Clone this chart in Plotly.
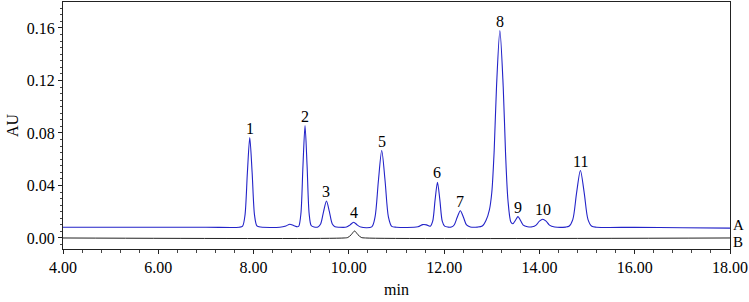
import plotly.graph_objects as go

# ---- data ----
time_a = [4.00, 7.00, 7.70, 7.77, 7.82, 7.87, 7.92, 7.97, 8.02, 8.07, 8.15,
          8.55, 8.68, 8.76, 8.84, 8.92,
          8.951, 8.994, 9.037, 9.08, 9.123, 9.166, 9.209, 9.27,
          9.35, 9.41, 9.47, 9.53, 9.59, 9.65, 9.71, 9.80,
          9.95, 10.02, 10.10, 10.18, 10.25,
          10.48, 10.55, 10.62, 10.69, 10.76, 10.83, 10.90, 11.00,
          11.45, 11.55, 11.63, 11.68,
          11.71, 11.76, 11.81, 11.86, 11.91, 11.96, 12.01, 12.08,
          12.15, 12.21, 12.275, 12.34, 12.405, 12.47, 12.55,
          12.70, 12.80, 12.88, 12.95, 13.00, 13.05, 13.10, 13.17, 13.24, 13.29, 13.34, 13.40,
          13.44, 13.50, 13.55, 13.60, 13.66, 13.75,
          13.85, 13.93, 14.00, 14.07, 14.14, 14.21, 14.32,
          14.55, 14.62, 14.70, 14.78, 14.86, 14.94, 15.02, 15.10, 15.20,
          16.00, 17.00, 18.00]
au_a = [0.0082, 0.0082, 0.0082, 0.0090, 0.0174, 0.0497, 0.0765, 0.0497, 0.0174, 0.0092, 0.0083,
        0.0082, 0.0092, 0.0105, 0.0095, 0.0085,
        0.0091, 0.0187, 0.0552, 0.0857, 0.0552, 0.0187, 0.0095, 0.0084,
        0.0084, 0.0109, 0.0203, 0.0282, 0.0203, 0.0109, 0.0086, 0.0082,
        0.0083, 0.0098, 0.0120, 0.0098, 0.0083,
        0.0085, 0.0161, 0.0436, 0.0666, 0.0436, 0.0161, 0.0088, 0.0082,
        0.0085, 0.0102, 0.0100, 0.0092,
        0.0090, 0.0128, 0.0290, 0.0425, 0.0290, 0.0128, 0.0090, 0.0083,
        0.0083, 0.0099, 0.0158, 0.0208, 0.0158, 0.0099, 0.0084,
        0.0083, 0.0091, 0.0135, 0.0215, 0.0347, 0.0664, 0.1159, 0.1580, 0.1151, 0.0635, 0.0285, 0.0121,
        0.0108, 0.0137, 0.0163, 0.0135, 0.0098, 0.0086,
        0.0085, 0.0098, 0.0128, 0.0143, 0.0128, 0.0098, 0.0084,
        0.0083, 0.0089, 0.0140, 0.0344, 0.0514, 0.0344, 0.0140, 0.0089, 0.0082,
        0.0081, 0.0078, 0.0075]

time_b = [4.00, 9.90, 9.98, 10.05, 10.12, 10.19, 10.26, 10.35, 18.00]
au_b = [0.0, 0.0, 0.0004, 0.0025, 0.0053, 0.0025, 0.0004, 0.0, 0.0]

peak_labels = ["1", "2", "3", "4", "5", "6", "7", "8", "9", "10", "11"]
peak_times = [7.92, 9.08, 9.53, 10.10, 10.69, 11.86, 12.34, 13.17, 13.55, 14.07, 14.86]
peak_heights = [0.0765, 0.0857, 0.0282, 0.0120, 0.0666, 0.0425, 0.0208, 0.1580, 0.0163, 0.0143, 0.0514]

trace_names = ["A", "B"]
trace_end_levels = [0.0075, 0.0]

x_ticks = [4, 6, 8, 10, 12, 14, 16, 18]
y_ticks = [0.00, 0.04, 0.08, 0.12, 0.16]

FONT = "Liberation Serif, Times New Roman, Times, serif"

fig = go.Figure()
fig.add_trace(go.Scatter(x=time_a, y=au_a, mode="lines", name="A",
                         line=dict(color="#2323c8", width=1.1, shape="spline", smoothing=0.8),
                         showlegend=False, hoverinfo="skip"))
fig.add_trace(go.Scatter(x=time_b, y=au_b, mode="lines", name="B",
                         line=dict(color="#222222", width=1, shape="spline", smoothing=0.8),
                         showlegend=False, hoverinfo="skip"))

for lab, t, h in zip(peak_labels, peak_times, peak_heights):
    fig.add_annotation(x=t, y=h, text=lab, showarrow=False, yanchor="bottom",
                       xanchor="center", yshift=-1, font=dict(family=FONT, size=16, color="black"))

label_shifts = [3, -4]
for nm, lv, ys in zip(trace_names, trace_end_levels, label_shifts):
    fig.add_annotation(x=1, xref="paper", y=lv, yref="y", text=nm, showarrow=False,
                       xanchor="left", yanchor="middle", xshift=2, yshift=ys, borderpad=0,
                       font=dict(family=FONT, size=15, color="black"))

fig.update_layout(
    width=749, height=302,
    margin=dict(l=63, r=19, t=2, b=53, autoexpand=False),
    paper_bgcolor="white", plot_bgcolor="white",
    font=dict(family=FONT, size=16, color="black"),
    xaxis=dict(range=[4, 18], tickvals=x_ticks, ticktext=[f"{v:.2f}" for v in x_ticks],
               showgrid=False, zeroline=False, showline=True, linecolor="#222", linewidth=1,
               mirror=True, ticks="outside", ticklen=4, tickcolor="#222", automargin=False,
               minor=dict(dtick=0.4, tick0=4, ticks="outside", ticklen=3, tickcolor="#444", showgrid=False),
               title=dict(text="min", standoff=8, font=dict(family=FONT, size=16)),
               tickfont=dict(family=FONT, size=16)),
    yaxis=dict(range=[-0.0084, 0.1798], tickvals=y_ticks, ticktext=[f"{v:.2f}" for v in y_ticks],
               showgrid=False, zeroline=False, showline=True, linecolor="#222", linewidth=1,
               mirror=True, ticks="outside", ticklen=4, tickcolor="#222", automargin=False,
               minor=dict(dtick=0.005, tick0=0, ticks="outside", ticklen=2, tickcolor="#444", showgrid=False),
               title=dict(text="AU", standoff=4, font=dict(family=FONT, size=16)),
               tickfont=dict(family=FONT, size=16)),
)

fig.write_html("out.html", config={"displayModeBar": False},
               post_script="document.body.style.margin='0';document.body.style.padding='0';")
